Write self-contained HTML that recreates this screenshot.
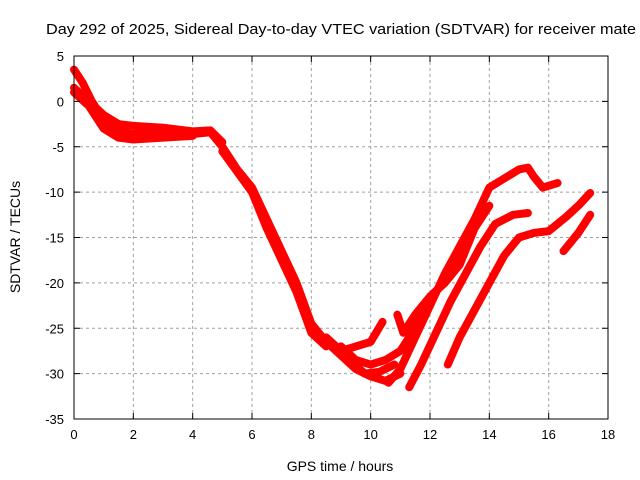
<!DOCTYPE html>
<html><head><meta charset="utf-8"><style>
body{margin:0;background:#fff;}
svg{display:block;font-family:"Liberation Sans",sans-serif;}
</style></head><body>
<svg id="chart" width="640" height="480">
<text x="46" y="34" font-size="15" textLength="590" lengthAdjust="spacingAndGlyphs">Day 292 of 2025, Sidereal Day-to-day VTEC variation (SDTVAR) for receiver mate</text>
<text transform="translate(20,237) rotate(-90)" font-size="14" text-anchor="middle">SDTVAR / TECUs</text>
<text x="340" y="471" font-size="14" text-anchor="middle">GPS time / hours</text>
<g id="grid"></g><g id="series"></g><g id="axes"></g>
</svg>
<script>
const xTicks=[0,2,4,6,8,10,12,14,16,18];
const yTicks=[5,0,-5,-10,-15,-20,-25,-30,-35];
const s1=[[0,3.5],[0.3,2],[0.6,0],[1,-2],[1.5,-3.3],[2,-3.6],[3,-3.5],[4,-3.6],[4.6,-3.4],[5,-5],[5.5,-7.5],[6,-9.5],[6.5,-13],[7,-16.5],[7.5,-20],[8,-24.5],[8.5,-26.5],[9,-28],[9.5,-29.5],[10,-30.3],[10.5,-30.8],[11,-30]];
const s2=[[0,1.5],[0.5,0],[1,-1.5],[1.5,-2.5],[2,-2.7],[3,-2.9],[4,-3.3],[4.6,-3.2],[5,-4.5]];
const s3=[[0,1],[0.5,-0.5],[1,-3],[1.5,-4],[2,-4.2],[3,-4],[4,-3.8]];
const s4=[[5,-5.5],[6,-10],[6.5,-14],[7,-17.5],[7.5,-21],[8,-25.5],[8.5,-27]];
const s5=[[8.5,-26],[9,-27.5],[9.5,-27],[10,-26.5],[10.4,-24.3]];
const s6=[[9,-27],[9.5,-28.5],[10,-29],[10.5,-28.5],[11,-27.5],[11.5,-25],[12,-22],[12.5,-19.5],[13,-17.3]];
const s7=[[10.6,-31],[11,-29.5],[11.5,-26],[12,-22.5],[12.5,-19],[13,-16],[13.5,-13],[14,-9.5],[14.5,-8.5],[15,-7.5],[15.3,-7.3],[15.5,-8.3],[15.8,-9.5],[16.3,-9]];
const s8=[[11.3,-31.5],[11.7,-29],[12.2,-25.5],[12.7,-22],[13.2,-19],[13.7,-16],[14.2,-13.5],[14.8,-12.5],[15.3,-12.3]];
const s9=[[12.6,-29],[13,-26],[13.5,-23],[14,-20],[14.5,-17],[15,-15],[15.5,-14.5],[16,-14.3],[16.6,-12.7],[17,-11.5],[17.4,-10.1]];
const s10=[[16.5,-16.5],[17,-14.5],[17.4,-12.5]];
const s11=[[10.9,-23.5],[11.1,-25.5],[11.5,-23.5],[12,-21.5],[12.5,-20],[13,-18],[13.5,-14],[14,-11.5]];
const s12=[[9.3,-28.5],[9.8,-30],[10.3,-29.8],[10.8,-29]];
const allSeries=[s1,s2,s3,s4,s5,s6,s7,s8,s9,s10,s11,s12];
const L=74,R=608,T=56,B=419;
function xs(h){return L+(h-0)/18*(R-L);}
function ys(v){return T+(5-v)/40*(B-T);}
const NS="http://www.w3.org/2000/svg";
function mk(tag,attrs,parent){const e=document.createElementNS(NS,tag);for(const k in attrs)e.setAttribute(k,attrs[k]);parent.appendChild(e);return e;}
const grid=document.getElementById('grid'),axes=document.getElementById('axes'),ser=document.getElementById('series');
xTicks.forEach(t=>{const x=xs(t);
 if(t>0&&t<18){const g=mk('line',{x1:x,x2:x,y1:T,y2:B,stroke:'#a0a0a0','stroke-dasharray':'3,3'},grid);
 
 }
 mk('line',{x1:x,x2:x,y1:B,y2:B-6,stroke:'#000'},axes);
 mk('line',{x1:x,x2:x,y1:T,y2:T+6,stroke:'#000'},axes);
 const l=mk('text',{x:x,y:B+20,'font-size':13,'text-anchor':'middle'},axes);l.textContent=t;
 
 });
yTicks.forEach(t=>{const y=ys(t);
 if(t<5&&t>-35){const g=mk('line',{x1:L,x2:R,y1:y,y2:y,stroke:'#a0a0a0','stroke-dasharray':'3,3'},grid);
 
 }
 mk('line',{x1:L,x2:L+6,y1:y,y2:y,stroke:'#000'},axes);
 mk('line',{x1:R,x2:R-6,y1:y,y2:y,stroke:'#000'},axes);
 const l=mk('text',{x:L-10,y:y+5,'font-size':13,'text-anchor':'end'},axes);l.textContent=t;
 
 });
const fr=mk('rect',{x:L,y:T,width:R-L,height:B-T,fill:'none',stroke:'#000'},axes);


allSeries.forEach((s,i)=>{
 const p=mk('polyline',{points:s.map(d=>xs(d[0])+','+ys(d[1])).join(' '),fill:'none',stroke:'#ff0000','stroke-width':8,'stroke-linejoin':'round','stroke-linecap':'round'},ser);
 
 });
</script>
</body></html>
